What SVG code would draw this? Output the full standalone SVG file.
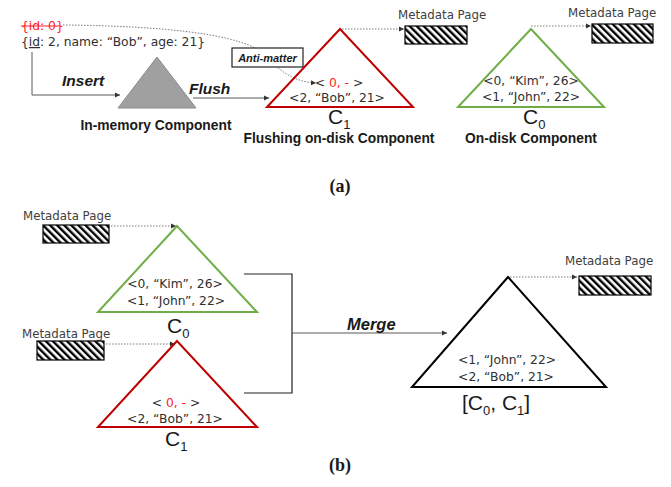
<svg xmlns="http://www.w3.org/2000/svg" width="671" height="487" viewBox="0 0 671 487">
<style>
text{font-family:"Liberation Sans",Arial,sans-serif;fill:#262626}
.rec{font-family:"DejaVu Sans","Liberation Sans",sans-serif;font-size:12.3px;fill:#303030}
.meta{font-family:"DejaVu Sans","Liberation Sans",sans-serif;font-size:11.8px;fill:#404040}
.lbl{font-size:13.8px;font-weight:bold;fill:#1a1a1a}
.op{font-size:15.5px;font-weight:bold;font-style:italic;fill:#1a1a1a}
.cap{font-family:"Liberation Serif","Times New Roman",serif;font-size:18px;font-weight:bold;fill:#1a1a1a}
.big{font-size:21px;fill:#1a1a1a}
.red{fill:#ff2020}
.dot{fill:none;stroke:#595959;stroke-width:0.8;stroke-dasharray:1.5 1.5}
.solid{fill:none;stroke:#595959;stroke-width:1}
.hatch{fill:url(#hp);stroke:#000;stroke-width:1.2}
</style>
<defs>
<pattern id="hp" patternUnits="userSpaceOnUse" width="5" height="5" patternTransform="rotate(-45)">
<rect width="5" height="5" fill="#fff"/>
<rect x="0" y="0" width="2.4" height="5" fill="#000"/>
</pattern>
<marker id="ah" markerWidth="6" markerHeight="6" refX="5" refY="3" orient="auto" markerUnits="userSpaceOnUse">
<path d="M0,0.5 L5,3 L0,5.5 Z" fill="#333"/>
</marker>
</defs>

<g id="connectors">
<path class="solid" d="M32,52 V95 H120" marker-end="url(#ah)"/>
<path class="solid" d="M193,98 H269" marker-end="url(#ah)"/>
<path class="dot" d="M63,25 C170,26 245,35 265,55 C280,72 295,82 316,83" marker-end="url(#ah)"/>
<path class="dot" d="M339,29 H404" marker-end="url(#ah)"/>
<path class="dot" d="M531,26 H591" marker-end="url(#ah)"/>
<path class="dot" d="M111,226 H176" marker-end="url(#ah)"/>
<path class="dot" d="M106,344 H175" marker-end="url(#ah)"/>
<path class="dot" d="M510,277 H577" marker-end="url(#ah)"/>
<path fill="none" stroke="#222" stroke-width="1.2" d="M244,274 H292 V393 H244"/>
<path class="solid" d="M292,333 H447" marker-end="url(#ah)"/>
</g>

<g id="records">
<text x="21" y="30" class="rec red">{id: 0}</text>
<line x1="21" y1="26" x2="60" y2="26" stroke="#ff2020" stroke-width="1"/>
<text x="21" y="46" class="rec">{<tspan text-decoration="underline">id</tspan>: 2, name: “Bob”, age: 21}</text>
</g>

<g id="antimatter">
<rect x="232" y="48" width="71" height="19" fill="#fff" stroke="#222" stroke-width="1.2"/>
<text x="267.5" y="62" text-anchor="middle" style="font-size:11px;font-weight:bold;font-style:italic;fill:#1a1a1a">Anti-matter</text>
</g>

<g id="labels-ops">
<text x="62" y="86" class="op">Insert</text>
<text x="189" y="94" class="op">Flush</text>
<text x="347" y="330" class="op" style="font-size:16.5px">Merge</text>
</g>

<g id="inmemory">
<polygon points="157,57 118,108 196,108" fill="#a0a0a0" stroke="#8a8a8a" stroke-width="1"/>
<text x="156" y="130" text-anchor="middle" class="lbl">In-memory Component</text>
</g>

<g id="flushing-c1">
<polygon points="340,29 267,107 413,107" fill="none" stroke="#c00000" stroke-width="2"/>
<text x="339" y="87" text-anchor="middle" class="rec">&lt; <tspan class="red">0, -</tspan> &gt;</text>
<text x="337" y="102" text-anchor="middle" class="rec">&lt;2, “Bob”,  21&gt;</text>
<text x="328" y="124" class="big">C<tspan font-size="13" dy="5">1</tspan></text>
<text x="339" y="143" text-anchor="middle" class="lbl">Flushing on-disk Component</text>
</g>

<g id="meta-top1">
<text x="398" y="19" class="meta">Metadata Page</text>
<rect x="405" y="26" width="62" height="18" class="hatch"/>
</g>

<g id="ondisk-c0">
<polygon points="531,29 458,107 604,107" fill="none" stroke="#70ad47" stroke-width="2"/>
<text x="531" y="85" text-anchor="middle" class="rec">&lt;0, “Kim”, 26&gt;</text>
<text x="531" y="101" text-anchor="middle" class="rec">&lt;1, “John”, 22&gt;</text>
<text x="523" y="124" class="big">C<tspan font-size="13" dy="5">0</tspan></text>
<text x="531" y="143" text-anchor="middle" class="lbl">On-disk Component</text>
</g>

<g id="meta-top2">
<text x="568" y="17" class="meta">Metadata Page</text>
<rect x="592" y="24" width="61" height="19" class="hatch"/>
</g>

<text x="340" y="192" text-anchor="middle" class="cap">(a)</text>

<g id="meta-b1">
<text x="23" y="220" class="meta">Metadata Page</text>
<rect x="43" y="225" width="66" height="18" class="hatch"/>
</g>

<g id="merge-c0">
<polygon points="177,226 98,312 257,312" fill="none" stroke="#70ad47" stroke-width="2"/>
<text x="175" y="288" text-anchor="middle" class="rec">&lt;0, “Kim”,  26&gt;</text>
<text x="176" y="305" text-anchor="middle" class="rec">&lt;1, “John”, 22&gt;</text>
<text x="167" y="333" class="big">C<tspan font-size="13" dy="5">0</tspan></text>
</g>

<g id="meta-b2">
<text x="22" y="338" class="meta">Metadata Page</text>
<rect x="37" y="341" width="67" height="19" class="hatch"/>
</g>

<g id="merge-c1">
<polygon points="177,341 98,427 257,427" fill="none" stroke="#c00000" stroke-width="2"/>
<text x="176" y="407" text-anchor="middle" class="rec">&lt; <tspan class="red">0, -</tspan> &gt;</text>
<text x="175" y="423" text-anchor="middle" class="rec">&lt;2, “Bob”,  21&gt;</text>
<text x="165" y="446" class="big">C<tspan font-size="13" dy="5">1</tspan></text>
</g>

<g id="merged">
<polygon points="508,277 412,387 606,387" fill="none" stroke="#000" stroke-width="2"/>
<text x="507" y="364" text-anchor="middle" class="rec">&lt;1, “John”, 22&gt;</text>
<text x="506" y="381" text-anchor="middle" class="rec">&lt;2, “Bob”,  21&gt;</text>
<text x="462" y="410" class="big">[C<tspan font-size="13" dy="5">0</tspan><tspan dy="-5">, C</tspan><tspan font-size="13" dy="5">1</tspan><tspan dy="-5">]</tspan></text>
</g>

<g id="meta-b3">
<text x="565" y="265" class="meta">Metadata Page</text>
<rect x="579" y="276" width="72" height="19" class="hatch"/>
</g>

<text x="340" y="471" text-anchor="middle" class="cap">(b)</text>
</svg>
